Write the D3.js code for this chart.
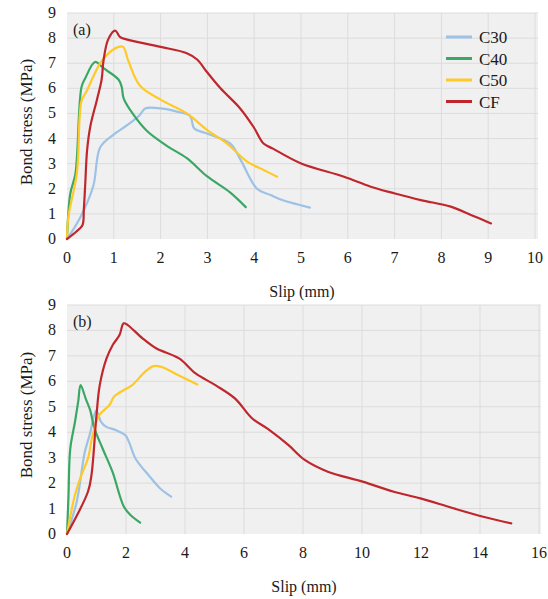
<!DOCTYPE html>
<html><head><meta charset="utf-8">
<script src="https://cdn.jsdelivr.net/npm/d3@7"></script>
<style>
body{margin:0;background:#fff;}
#wrap{position:relative;width:548px;height:599px;overflow:hidden;}
#wrap svg{position:absolute;left:0;top:0;display:block;}
.lbl{position:absolute;color:#1a1a1a;white-space:nowrap;line-height:1;}
</style>
</head><body>
<div id="wrap" style="font-family:'Liberation Serif'">
<svg id="chart" width="548" height="599"></svg>
<div class="lbl" style="font-family:'Liberation Serif';font-size:16px;left:302px;top:292px;transform:translate(-50%,-50%)">Slip (mm)</div>
<div class="lbl" style="font-family:'Liberation Serif';font-size:16px;left:304px;top:587px;transform:translate(-50%,-50%)">Slip (mm)</div>
<div class="lbl" style="font-family:'Liberation Serif';font-size:17px;left:26px;top:122px;transform:translate(-50%,-50%) rotate(-90deg)">Bond stress (MPa)</div>
<div class="lbl" style="font-family:'Liberation Serif';font-size:17px;left:26px;top:415px;transform:translate(-50%,-50%) rotate(-90deg)">Bond stress (MPa)</div>
<div class="lbl" style="font-family:'Liberation Serif';font-size:16px;left:73px;top:30px;transform:translate(0,-50%)">(a)</div>
<div class="lbl" style="font-family:'Liberation Serif';font-size:16px;left:73px;top:322px;transform:translate(0,-50%)">(b)</div>
</div>
<script>
const seriesNames = ["C30","C40","C50","CF"];
const seriesColors = ["#9cc2e5","#3aa864","#ffc926","#c0272d"];

// Panel (a): [slip mm, bond stress MPa]
const a_C30 = [[0,0],[0.28,0.85],[0.56,2.1],[0.71,3.65],[0.99,4.15],[1.3,4.55],[1.56,4.95],[1.67,5.2],[2.0,5.2],[2.4,5.05],[2.63,4.9],[2.72,4.4],[2.99,4.2],[3.49,3.8],[3.71,3.15],[4.06,2.0],[4.35,1.75],[4.6,1.55],[5.19,1.25]];
const a_C40 = [[0,0],[0.07,1.8],[0.18,2.6],[0.31,6.05],[0.39,6.4],[0.6,7.05],[0.78,6.8],[1.1,6.35],[1.17,6.05],[1.21,5.6],[1.42,4.95],[1.71,4.3],[2.14,3.7],[2.56,3.22],[2.99,2.5],[3.49,1.85],[3.82,1.27]];
const a_C50 = [[0,0],[0.03,0.9],[0.21,2.6],[0.31,5.5],[0.41,5.85],[0.71,7.0],[0.92,7.45],[1.1,7.65],[1.2,7.65],[1.31,7.1],[1.56,6.1],[2.0,5.55],[2.56,5.0],[2.99,4.35],[3.42,3.8],[3.85,3.08],[4.2,2.75],[4.49,2.48]];
const a_CF = [[0,0],[0.2,0.3],[0.33,0.55],[0.36,1.2],[0.39,2.2],[0.43,3.55],[0.5,4.5],[0.64,5.55],[0.74,6.35],[0.78,7.1],[0.88,7.95],[1.03,8.3],[1.13,8.05],[1.27,7.95],[2.0,7.65],[2.56,7.4],[2.78,7.15],[2.99,6.65],[3.28,6.0],[3.7,5.2],[3.99,4.45],[4.2,3.8],[4.4,3.6],[4.99,3.02],[5.92,2.48],[6.49,2.08],[6.99,1.82],[7.56,1.55],[8.2,1.29],[8.63,0.96],[9.06,0.62]];

// Panel (b)
const b_C30 = [[0,0],[0.33,1.27],[0.6,3.2],[0.77,3.9],[0.99,4.85],[1.16,4.4],[1.32,4.22],[1.66,4.08],[1.98,3.88],[2.1,3.62],[2.32,2.97],[2.76,2.32],[3.15,1.8],[3.53,1.47]];
const b_C40 = [[0,0],[0.05,1.5],[0.11,3.35],[0.27,4.4],[0.38,5.2],[0.46,5.85],[0.64,5.3],[0.79,4.85],[0.93,4.15],[1.21,3.35],[1.54,2.45],[1.93,1.07],[2.15,0.75],[2.48,0.45]];
const b_C50 = [[0,0],[0.27,1.53],[0.49,2.32],[0.71,2.97],[0.87,3.89],[1.1,4.68],[1.44,5.07],[1.6,5.4],[1.93,5.66],[2.21,5.85],[2.65,6.38],[2.93,6.6],[3.2,6.57],[3.76,6.25],[4.42,5.88]];
const b_CF = [[0,0],[0.71,1.66],[0.83,2.32],[1.0,4.68],[1.11,5.85],[1.34,6.9],[1.55,7.43],[1.78,7.82],[1.92,8.28],[2.06,8.21],[2.56,7.69],[3.02,7.3],[3.8,6.9],[4.36,6.31],[5.03,5.85],[5.7,5.32],[6.27,4.55],[6.82,4.12],[7.5,3.5],[8.06,2.91],[8.84,2.45],[10.02,2.06],[11.08,1.66],[11.98,1.4],[13.1,1.01],[14.11,0.68],[15.06,0.42]];

const xTicksA = [0,1,2,3,4,5,6,7,8,9,10];
const xTicksB = [0,2,4,6,8,10,12,14,16];
const yTicks = [0,1,2,3,4,5,6,7,8,9];

const svg = d3.select("#chart");
const wrap = d3.select("#wrap");

function label(txt, x, y, size, ax, ay){
  return wrap.append("div").attr("class","lbl")
    .style("font-family", "'Liberation Serif'")
    .style("left", x+"px").style("top", y+"px").style("font-size", size+"px")
    .style("transform", `translate(${-ax*100}%,${-ay*100}%)`).text(txt);
}

function panel(opt){
  const g = svg.append("g");
  const x = d3.scaleLinear().domain(opt.xDomain).range([opt.left, opt.right]);
  const y = d3.scaleLinear().domain([0,9]).range([opt.bottom, opt.top]);
  g.append("rect").attr("x", opt.left).attr("y", opt.top)
    .attr("width", opt.bgRight - opt.left).attr("height", opt.bottom - opt.top)
    .attr("fill", "#f0f0f0");
  g.selectAll(".hg").data(yTicks.slice(1)).join("line")
    .attr("x1", opt.left).attr("x2", opt.bgRight)
    .attr("y1", d=>y(d)).attr("y2", d=>y(d))
    .attr("stroke", "#dcdcdc").attr("stroke-width", 1);
  g.selectAll(".vg").data(opt.xTicks.slice(1).filter(d=>x(d)<opt.bgRight-1)).join("line")
    .attr("x1", d=>x(d)).attr("x2", d=>x(d))
    .attr("y1", opt.top).attr("y2", opt.bottom)
    .attr("stroke", "#dcdcdc").attr("stroke-width", 1);
  opt.xTicks.forEach(v => label(String(v), x(v), opt.bottom + 19, 16, 0.5, 0.5));
  yTicks.forEach(v => label(String(v), opt.left - 11, y(v), 16, 1, 0.5));
  const line = d3.line().x(d=>x(d[0])).y(d=>y(d[1])).curve(d3.curveCatmullRom.alpha(0.5));
  opt.series.forEach((s,i)=>{
    g.append("path").datum(s).attr("d", line).attr("fill","none")
      .attr("stroke", seriesColors[i]).attr("stroke-width", 2.2)
      .attr("stroke-linejoin","round").attr("stroke-linecap","round");
  });
}

panel({xDomain:[0,10], left:67, right:535, bgRight:538, top:13, bottom:239, xTicks:xTicksA, series:[a_C30,a_C40,a_C50,a_CF]});
panel({xDomain:[0,16], left:67, right:539, bgRight:541, top:305, bottom:534, xTicks:xTicksB, series:[b_C30,b_C40,b_C50,b_CF]});

const legY = d3.scalePoint().domain(seriesNames).range([37, 101.5]);
seriesNames.forEach((n,i)=>{
  const yy = legY(n);
  svg.append("line").attr("x1",446).attr("x2",472).attr("y1",yy).attr("y2",yy)
    .attr("stroke", seriesColors[i]).attr("stroke-width", 3);
  label(n, 479, yy, 17, 0, 0.5);
});
</script>
</body></html>
